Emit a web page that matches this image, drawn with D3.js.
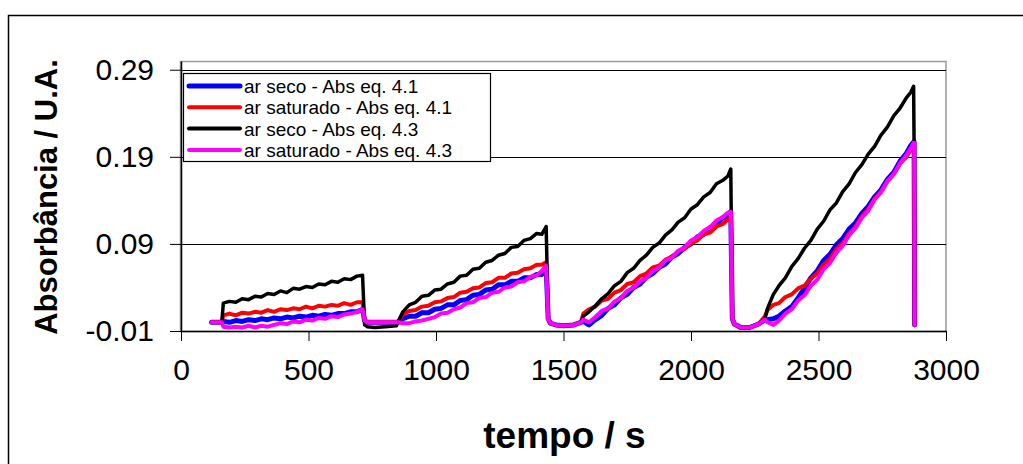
<!DOCTYPE html>
<html>
<head>
<meta charset="utf-8">
<script src="https://cdn.jsdelivr.net/npm/d3@7"></script>
<style>
    body { margin: 0; background: #fff; }
    #chart { width: 1023px; height: 464px; }
    text { font-family: "Liberation Sans", Arial, sans-serif; }
    .axis path, .axis line { stroke: #000; }
</style>
</head>
<body>
<div id="chart"></div>
<script>

// tempo / s (shared by all four series)
var tempo = [
    120, 160,
    166, 190, 215, 240, 265, 290, 315, 340, 365, 390, 415, 440, 465, 490, 515, 540, 565, 590, 615, 640, 665, 690, 712,
    720, 730, 760, 800, 845,
    852, 870, 895, 920, 945, 970, 995, 1020, 1045, 1070, 1095, 1120, 1145, 1170, 1195, 1220, 1245, 1270, 1295, 1320, 1345, 1370, 1395, 1415, 1432,
    1440, 1448, 1470, 1500, 1540, 1568,
    1578, 1600, 1625, 1650, 1675, 1700, 1725, 1750, 1775, 1800, 1825, 1850, 1875, 1900, 1925, 1950, 1975, 2000, 2025, 2050, 2075, 2100, 2125, 2145, 2156,
    2162, 2170, 2195, 2230, 2265, 2290,
    2300, 2323, 2345, 2370, 2395, 2420, 2445, 2470, 2495, 2520, 2545, 2570, 2595, 2620, 2645, 2670, 2695, 2720, 2745, 2770, 2795, 2820, 2845, 2862, 2873,
    2875, 2877
];

// ar seco - Abs eq. 4.1
var secoEq41 = [
    0.000, 0.000,
    0.001, 0.000, 0.002, 0.001, 0.003, 0.002, 0.004, 0.003, 0.005, 0.004, 0.006, 0.005, 0.007, 0.006, 0.008, 0.007, 0.009, 0.008, 0.010, 0.010, 0.012, 0.012, 0.015,
    0.002, 0.000, 0.000, 0.000, 0.000,
    0.000, 0.004, 0.007, 0.007, 0.011, 0.011, 0.015, 0.016, 0.020, 0.020, 0.025, 0.026, 0.031, 0.032, 0.037, 0.038, 0.043, 0.043, 0.047, 0.047, 0.051, 0.051, 0.055, 0.055, 0.064,
    0.004, -0.001, -0.003, -0.004, -0.003, 0.000,
    0.001, -0.003, 0.003, 0.008, 0.016, 0.020, 0.028, 0.032, 0.040, 0.044, 0.052, 0.056, 0.063, 0.067, 0.075, 0.079, 0.086, 0.090, 0.098, 0.101, 0.109, 0.113, 0.120, 0.122, 0.127,
    0.004, -0.002, -0.006, -0.006, -0.002, 0.003,
    0.003, 0.004, 0.007, 0.013, 0.018, 0.028, 0.039, 0.051, 0.059, 0.071, 0.078, 0.089, 0.096, 0.107, 0.114, 0.125, 0.133, 0.144, 0.152, 0.164, 0.172, 0.185, 0.194, 0.203, 0.207,
    0.207, -0.003
];

// ar saturado - Abs eq. 4.1
var saturadoEq41 = [
    0.000, 0.000,
    0.008, 0.010, 0.008, 0.011, 0.010, 0.012, 0.011, 0.014, 0.012, 0.015, 0.014, 0.016, 0.015, 0.018, 0.016, 0.019, 0.018, 0.020, 0.019, 0.022, 0.020, 0.023, 0.023,
    0.003, 0.000, 0.000, 0.000, 0.000,
    0.001, 0.009, 0.013, 0.014, 0.018, 0.019, 0.023, 0.024, 0.028, 0.029, 0.034, 0.035, 0.039, 0.040, 0.045, 0.046, 0.051, 0.051, 0.056, 0.057, 0.061, 0.062, 0.066, 0.066, 0.069,
    0.004, -0.001, -0.003, -0.004, -0.003, 0.000,
    0.010, 0.015, 0.018, 0.025, 0.027, 0.034, 0.037, 0.044, 0.046, 0.053, 0.056, 0.063, 0.065, 0.072, 0.075, 0.082, 0.084, 0.091, 0.094, 0.101, 0.103, 0.110, 0.113, 0.118, 0.121,
    0.004, -0.002, -0.006, -0.006, -0.002, 0.007,
    0.014, 0.020, 0.022, 0.029, 0.032, 0.039, 0.042, 0.050, 0.056, 0.066, 0.073, 0.084, 0.091, 0.102, 0.110, 0.122, 0.130, 0.142, 0.150, 0.162, 0.170, 0.182, 0.190, 0.198, 0.204,
    0.204, -0.003
];

// ar seco - Abs eq. 4.3
var secoEq43 = [
    0.000, 0.000,
    0.022, 0.024, 0.023, 0.027, 0.026, 0.030, 0.029, 0.033, 0.032, 0.036, 0.034, 0.039, 0.038, 0.041, 0.040, 0.044, 0.043, 0.047, 0.046, 0.050, 0.049, 0.053, 0.054,
    -0.003, -0.005, -0.006, -0.005, -0.004,
    0.001, 0.012, 0.020, 0.023, 0.030, 0.031, 0.037, 0.038, 0.044, 0.046, 0.053, 0.054, 0.061, 0.062, 0.069, 0.071, 0.077, 0.079, 0.086, 0.087, 0.094, 0.096, 0.102, 0.101, 0.110,
    0.004, -0.001, -0.003, -0.004, -0.003, 0.000,
    0.007, 0.012, 0.019, 0.027, 0.033, 0.042, 0.047, 0.057, 0.062, 0.071, 0.077, 0.086, 0.091, 0.100, 0.106, 0.115, 0.120, 0.130, 0.135, 0.144, 0.149, 0.159, 0.163, 0.168, 0.176,
    0.004, -0.002, -0.006, -0.006, -0.002, 0.004,
    0.016, 0.032, 0.042, 0.051, 0.064, 0.073, 0.085, 0.094, 0.107, 0.116, 0.129, 0.137, 0.150, 0.159, 0.172, 0.181, 0.193, 0.202, 0.215, 0.224, 0.237, 0.246, 0.258, 0.264, 0.271,
    0.200, -0.003
];

// ar saturado - Abs eq. 4.3
var saturadoEq43 = [
    0.000, 0.000,
    -0.005, -0.006, -0.005, -0.006, -0.004, -0.006, -0.004, -0.005, -0.003, -0.001, -0.002, 0.001, 0.000, 0.003, 0.002, 0.005, 0.004, 0.007, 0.006, 0.009, 0.010, 0.012, 0.015,
    0.002, 0.000, 0.000, 0.000, 0.000,
    0.000, -0.001, -0.001, 0.001, 0.002, 0.004, 0.006, 0.010, 0.011, 0.015, 0.017, 0.022, 0.023, 0.028, 0.029, 0.034, 0.035, 0.040, 0.041, 0.046, 0.047, 0.052, 0.054, 0.059, 0.065,
    0.004, -0.001, -0.003, -0.004, -0.003, 0.000,
    0.003, 0.000, 0.006, 0.013, 0.016, 0.024, 0.028, 0.036, 0.040, 0.047, 0.051, 0.059, 0.063, 0.071, 0.074, 0.082, 0.086, 0.094, 0.098, 0.105, 0.109, 0.117, 0.121, 0.126, 0.127,
    0.004, -0.002, -0.006, -0.006, -0.002, 0.003,
    0.000, -0.003, 0.002, 0.010, 0.015, 0.025, 0.031, 0.042, 0.049, 0.061, 0.068, 0.080, 0.088, 0.100, 0.108, 0.120, 0.128, 0.141, 0.149, 0.162, 0.170, 0.183, 0.192, 0.200, 0.206,
    0.206, -0.003
];

var seriesNames = ["ar seco - Abs eq. 4.1", "ar saturado - Abs eq. 4.1", "ar seco - Abs eq. 4.3", "ar saturado - Abs eq. 4.3"];
var seriesValues = [secoEq41, saturadoEq41, secoEq43, saturadoEq43];
var seriesColors = ["#0000ff", "#ff0000", "#000000", "#ff00ff"];
var seriesWidths = [5, 4, 3.5, 4];

var xTicks = [0, 500, 1000, 1500, 2000, 2500, 3000];
var yTicks = [-0.01, 0.09, 0.19, 0.29];


function AbsorbanceChart() {
    var self = this;

    this.x;
    this.y;
    this.svg;
    this.g;

    // SIZES
    this.width;
    this.height;
    this.c_margin;
    this.c_width;
    this.c_height;

    this.draw = function(div_id) {
        this.getSizes(div_id);
        this.checkData();

        this.svg = d3.select(div_id).append("svg")
            .attr("width", this.width)
            .attr("height", this.height);

        // outer frame (runs off the right/bottom edge in the original)
        this.svg.append("rect")
            .attr("x", 8.5).attr("y", 15.5)
            .attr("width", 1200).attr("height", 600)
            .attr("fill", "#fff")
            .attr("stroke", "#000")
            .attr("stroke-width", 1.5);

        this.g = this.svg.append("g")
            .attr("transform", "translate(" + this.c_margin.left + "," + this.c_margin.top + ")");

        this.x = d3.scaleLinear().domain([0, 3000]).range([0, this.c_width]);
        this.y = d3.scaleLinear().domain([-0.01, 0.30]).range([this.c_height, 0]);

        // plot area border
        this.g.append("rect")
            .attr("x", -0.5).attr("y", 0.5)
            .attr("width", this.c_width + 0.5).attr("height", this.c_height)
            .attr("fill", "none")
            .attr("stroke", "#9a9a9a")
            .attr("stroke-width", 1.5);

        /* GRID */
        this.g.append("g")
            .selectAll("line")
            .data(yTicks.filter(function(d) { return d > 0; }))
            .enter().append("line")
                .attr("x1", 0)
                .attr("x2", this.c_width)
                .attr("y1", function(d) { return Math.round(self.y(d)) + 0.5; })
                .attr("y2", function(d) { return Math.round(self.y(d)) + 0.5; })
                .attr("stroke", "#000")
                .attr("stroke-width", 1.2);

        /* AXIS */
        var xAxis = this.g.append("g")
            .attr("class", "axis")
            .attr("transform", "translate(0," + this.c_height + ")")
            .call(d3.axisBottom(this.x).tickValues(xTicks).tickSize(10).tickSizeOuter(0).tickPadding(18)
                .tickFormat(d3.format("d")));
        xAxis.selectAll("text")
            .attr("font-size", "30px")
            .attr("fill", "#000");
        xAxis.select(".domain").attr("stroke-width", 1.5);

        var yAxis = this.g.append("g")
            .attr("class", "axis")
            .call(d3.axisLeft(this.y).tickValues(yTicks).tickSize(11).tickSizeOuter(0).tickPadding(16));
        yAxis.selectAll("text")
            .attr("font-size", "30px")
            .attr("fill", "#000")
            .text(function(d) { return d.toFixed(2); });
        yAxis.select(".domain").attr("stroke-width", 1.5);

        // axis titles
        this.svg.append("text")
            .attr("x", this.c_margin.left + this.c_width / 2 + 1)
            .attr("y", 448)
            .attr("text-anchor", "middle")
            .attr("font-size", "37px")
            .attr("font-weight", "bold")
            .text("tempo / s");

        this.svg.append("text")
            .attr("transform", "translate(57,197) rotate(-90)")
            .attr("text-anchor", "middle")
            .attr("font-size", "31px")
            .attr("font-weight", "bold")
            .text("Absorbância / U.A.");

        /* SERIES */
        var line = d3.line()
            .x(function(d) { return self.x(d[0]); })
            .y(function(d) { return self.y(d[1]); });

        this.g.selectAll(".serie")
            .data(seriesValues)
            .enter().append("path")
                .attr("class", "serie")
                .attr("fill", "none")
                .attr("stroke", function(d, i) { return seriesColors[i]; })
                .attr("stroke-width", function(d, i) { return seriesWidths[i]; })
                .attr("stroke-linejoin", "round")
                .attr("stroke-linecap", "round")
                .attr("d", function(vals) {
                    return line(tempo.map(function(t, j) { return [t, vals[j]]; }));
                });

        /* LEGEND */
        var lg = this.svg.append("g").attr("transform", "translate(183,73)");
        lg.append("rect")
            .attr("x", 0.5).attr("y", 0.5)
            .attr("width", 307).attr("height", 88)
            .attr("fill", "#fff")
            .attr("stroke", "#000")
            .attr("stroke-width", 1.2);

        var item = lg.selectAll(".item")
            .data(seriesNames)
            .enter().append("g")
                .attr("class", "item")
                .attr("transform", function(d, i) { return "translate(0," + (13 + i * 21.3) + ")"; });

        item.append("line")
            .attr("x1", 6).attr("x2", 57)
            .attr("stroke", function(d, i) { return seriesColors[i]; })
            .attr("stroke-width", function(d, i) { return i == 0 ? 5 : 4; })
            .attr("stroke-linecap", "round");

        item.append("text")
            .attr("x", 61)
            .attr("y", 7)
            .attr("font-size", "19px")
            .text(function(d) { return d; });
    }

    this.checkData = function() {
        seriesValues.forEach(function(vals, i) {
            if (vals.length != tempo.length) {
                throw new Error(seriesNames[i] + ": " + vals.length + " values, tempo has " + tempo.length);
            }
        });
    }

    this.getSizes = function(div_id) {
        this.width = 1023;
        this.height = 464;
        this.c_margin = {top: 61, right: 77, bottom: 133, left: 181};
        this.c_width = this.width - this.c_margin.left - this.c_margin.right;
        this.c_height = this.height - this.c_margin.top - this.c_margin.bottom;
    }
}

var chart = new AbsorbanceChart();
chart.draw("#chart");

</script>
</body>
</html>
